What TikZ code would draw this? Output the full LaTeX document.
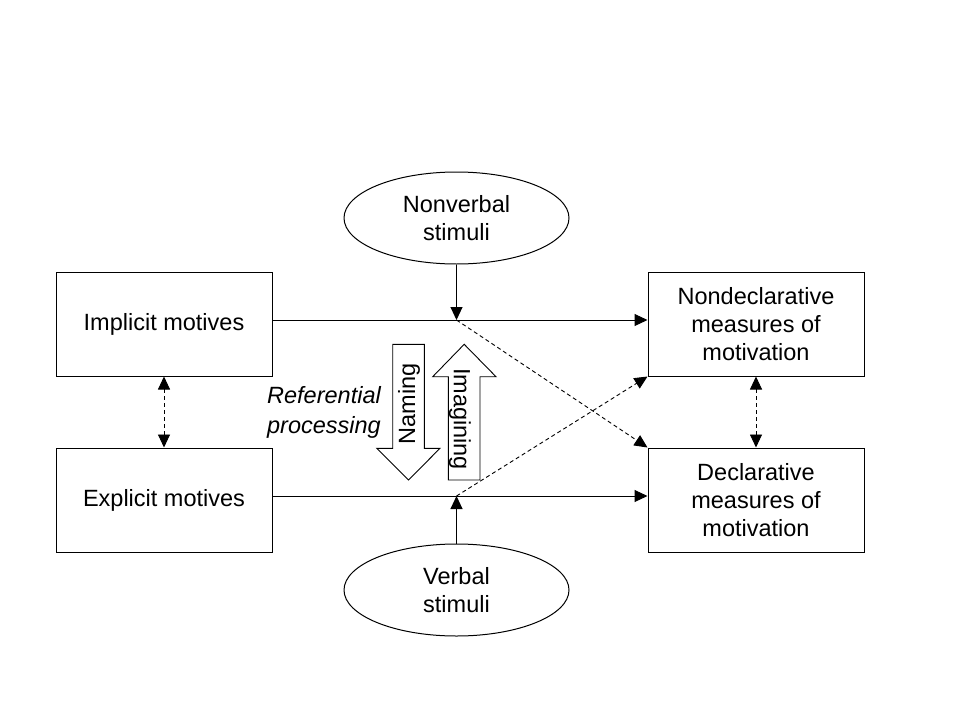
\documentclass[tikz,border=0pt]{standalone}
\usepackage{fontspec}
\setmainfont{Liberation Sans}
\usetikzlibrary{shapes.geometric,arrows.meta}
\begin{document}
\begin{tikzpicture}[x=1pt,y=-1pt,
  every node/.style={font=\fontsize{23.5}{28}\selectfont},
  box/.style={draw,line width=1pt,minimum width=216pt,minimum height=104pt,inner sep=0pt,align=center},
  oval/.style={draw,line width=1pt,ellipse,minimum width=225pt,minimum height=92pt,inner sep=0pt,align=center},
  arr/.style={line width=1pt,-{Triangle[length=13pt,width=12pt]}},
  darr/.style={line width=0.9pt,dash pattern=on 4pt off 3pt,-{Triangle[length=13pt,width=12pt]}},
  ddarr/.style={line width=0.9pt,dash pattern=on 4pt off 3pt,{Triangle[length=13pt,width=12pt]}-{Triangle[length=13pt,width=12pt]}},
  blk/.style={draw,line width=0.9pt,fill=white}]
\useasboundingbox (0,0) rectangle (960,720);
\fill[white] (0,0) rectangle (960,720);

\node[box] (impl) at (164,324) {Implicit motives};
\node[box] (expl) at (164,500) {Explicit motives};
\node[box] (ndecl) at (756,324) {Nondeclarative\\measures of\\motivation};
\node[box] (decl) at (756,500) {Declarative\\measures of\\motivation};
\node[oval] (nonv) at (456.5,218) {Nonverbal\\stimuli};
\node[oval] (verb) at (456.5,590) {Verbal\\stimuli};

\coordinate (j1) at (456.5,320);
\coordinate (j2) at (456.5,496);

\draw[arr] (impl.east|-j1) -- (ndecl.west|-j1);
\draw[arr] (expl.east|-j2) -- (decl.west|-j2);
\draw[arr] (nonv.south) -- (j1);
\draw[arr] (verb.north) -- (j2);
\draw[darr] (j1) -- (decl.north west);
\draw[darr] (j2) -- (ndecl.south west);
\draw[ddarr] (impl.south) -- (expl.north);
\draw[ddarr] (ndecl.south) -- (decl.north);

% Naming block arrow (down)
\draw[blk] (392.7,344.3) -- (424.3,344.3) -- (424.3,448.3) -- (440,448.3) -- (408.5,480) -- (376.7,448.3) -- (392.7,448.3) -- cycle;
% Imagining block arrow (up)
\draw[blk] (448.3,480) -- (480,480) -- (480,376.7) -- (496,376.7) -- (464.2,344.3) -- (432.7,376.7) -- (448.3,376.7) -- cycle;

\node[rotate=90,inner sep=0pt] (naming) at (409,404) {Naming};
\node[rotate=-90,inner sep=0pt] (imag) at (460,419) {Imagining};
\node[align=center,font=\fontsize{23.5}{30}\itshape,inner sep=0pt] (ref) at (324,412) {Referential\\processing};
\end{tikzpicture}
\end{document}
